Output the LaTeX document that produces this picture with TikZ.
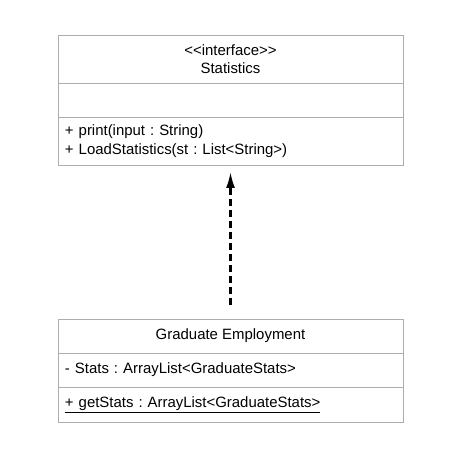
\documentclass[tikz,border=0pt]{standalone}
\usepackage{fontspec}
\setmainfont{Liberation Sans}[Ligatures=TeXOff]
\usetikzlibrary{positioning,arrows.meta}
\frenchspacing

\tikzset{
  umlpart/.style={draw=black!32,line width=0.8bp,minimum width=345bp,outer sep=0pt,
    font=\fontsize{15}{18.5}\selectfont},
  umlleft/.style={umlpart,text width=331bp,inner xsep=7bp,align=left},
  realize/.style={-{Latex[length=16bp,width=9bp]},line width=2.2bp,dash pattern=on 7bp off 4bp}
}

\begin{document}
\begin{tikzpicture}[x=1bp,y=1bp,node distance=0pt]
        \useasboundingbox (0,0) rectangle (460,458);
        % interface
        \node[umlpart,minimum height=48bp,align=center] (shead) at (230.5,399) {<<interface>>\\Statistics};
        \node[umlpart,minimum height=34bp,below=of shead] (sattr) {};
        \node[umlleft,minimum height=48bp,below=of sattr] (sops) {+ print(input : String)\\+ LoadStatistics(st : List<String>)};
        % class
        \node[umlpart,minimum height=34bp] (ghead) at (230.5,122) {Graduate Employment};
        \node[umlleft,minimum height=34bp,below=of ghead] (gattr) {- Stats : ArrayList<GraduateStats>};
        \node[umlleft,minimum height=35bp,below=of gattr] (gops) {\underline{+ getStats : ArrayList<GraduateStats>}};
        \draw[realize,shorten <=14bp,shorten >=7bp] (ghead.north) -- (sops.south);
    \end{tikzpicture}
\end{document}
